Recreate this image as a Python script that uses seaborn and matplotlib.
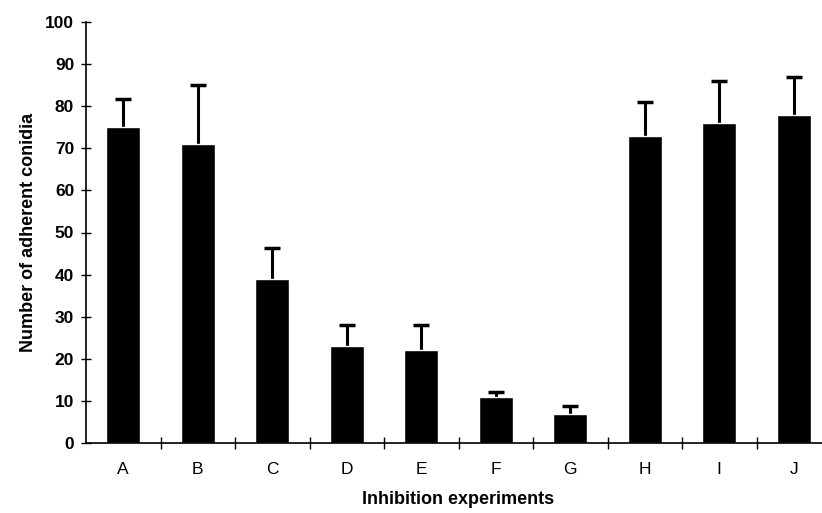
import matplotlib
matplotlib.use("Agg")
import matplotlib.pyplot as plt
import seaborn as sns
import pandas as pd
import numpy as np

experiments = ["A", "B", "C", "D", "E", "F", "G", "H", "I", "J"]
adherent = [75, 71, 39, 23, 22, 11, 7, 73, 76, 78]
upper_err = [6.8, 14, 7.4, 5, 6, 1, 1.8, 8, 10, 9]

sns.set_theme(style="ticks")
plt.rcParams["font.family"] = ["Liberation Sans", "DejaVu Sans"]
plt.rcParams["text.color"] = "black"
plt.rcParams["axes.labelcolor"] = "black"

df = pd.DataFrame({"exp": experiments, "n": adherent})

fig = plt.figure(figsize=(8.22, 5.13), dpi=100)
ax = fig.add_axes([86 / 822, 70 / 513, 745 / 822, 421 / 513])

sns.barplot(data=df, x="exp", y="n", color="black", width=0.45,
            saturation=1, ax=ax, errorbar=None, zorder=2)
pos = np.arange(len(experiments))
eb = ax.errorbar(pos, adherent, yerr=[np.zeros(len(pos)), upper_err], fmt="none",
                 ecolor="black", elinewidth=2.2, capsize=5.5, capthick=2.5, zorder=1)
# only the upper cap, like the original
eb.lines[1][0].set_visible(False)

ax.set_ylim(0, 100)
ax.set_xlim(-0.5, len(experiments) - 0.5)
ax.set_yticks(range(0, 101, 10))
ax.set_yticklabels([str(v) for v in range(0, 101, 10)], fontweight="bold", fontsize=12.5)
ax.set_xticks(pos)
ax.set_xticklabels(experiments, fontsize=12.5)
ax.set_xticks(pos[:-1] + 0.5, minor=True)
ax.tick_params(axis="x", which="major", bottom=False, length=0, pad=14, colors="black")
ax.tick_params(axis="x", which="minor", bottom=True, length=9, direction="inout", width=1, color="black")
ax.tick_params(axis="y", left=True, length=7, direction="inout", width=1, colors="black", pad=5)

for side in ["top", "right"]:
    ax.spines[side].set_visible(False)
for side in ["left", "bottom"]:
    ax.spines[side].set_color("black")
    ax.spines[side].set_linewidth(1.2)

ax.set_ylabel("Number of adherent conidia", fontweight="bold", fontsize=13, labelpad=6)
ax.set_xlabel("Inhibition experiments", fontweight="bold", fontsize=13, labelpad=10)

fig.savefig("out.png", dpi=100)
